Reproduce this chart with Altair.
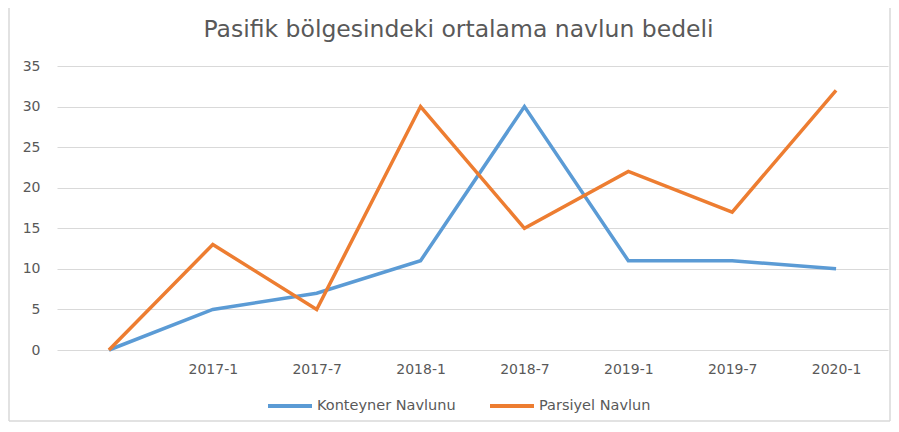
import altair as alt
import pandas as pd

categories = ["", "2017-1", "2017-7", "2018-1", "2018-7", "2019-1", "2019-7", "2020-1"]
konteyner = [0, 5, 7, 11, 30, 11, 11, 10]
parsiyel = [0, 13, 5, 30, 15, 22, 17, 32]
series_names = ["Konteyner Navlunu", "Parsiyel Navlun"]
series_colors = ["#5B9BD5", "#ED7D31"]

rows = []
for c, v in zip(categories, konteyner):
    rows.append({"period": c, "value": v, "series": series_names[0]})
for c, v in zip(categories, parsiyel):
    rows.append({"period": c, "value": v, "series": series_names[1]})
df = pd.DataFrame(rows)

FONT = "DejaVu Sans"
TXT = "#595959"

lines = alt.Chart(df).mark_line(strokeWidth=3.5).encode(
    x=alt.X("period:N", sort=categories,
            scale=alt.Scale(type="point", padding=0.5),
            axis=alt.Axis(title=None, labelAngle=0, ticks=False, domain=False,
                          grid=False, labelPadding=12, labelFontSize=14,
                          labelColor=TXT, labelFont=FONT)),
    y=alt.Y("value:Q", scale=alt.Scale(domain=[0, 35]),
            axis=alt.Axis(title=None, values=[0, 5, 10, 15, 20, 25, 30, 35],
                          ticks=False, domain=False, gridColor="#D9D9D9",
                          gridWidth=1.2, labelPadding=17, labelFontSize=14,
                          labelColor=TXT, labelFont=FONT)),
    color=alt.Color("series:N", sort=series_names,
                    scale=alt.Scale(domain=series_names, range=series_colors),
                    legend=alt.Legend(title=None, orient="none", direction="horizontal",
                                      legendX=209, legendY=316,
                                      symbolType="stroke", symbolSize=1936,
                                      symbolStrokeWidth=4, labelFontSize=14.5,
                                      labelColor=TXT, labelFont=FONT,
                                      columnPadding=26, labelOffset=3)),
)

frame_data = alt.Data(values=[{"a": 1}])
left = alt.Chart(frame_data).mark_rule(color="#D9D9D9", strokeWidth=1.5).encode(
    x=alt.value(-48), y=alt.value(-60), y2=alt.value(355))
right = alt.Chart(frame_data).mark_rule(color="#D9D9D9", strokeWidth=1.5).encode(
    x=alt.value(833), y=alt.value(-60), y2=alt.value(355))
bottom = alt.Chart(frame_data).mark_rule(color="#D9D9D9", strokeWidth=1.5).encode(
    x=alt.value(-48), x2=alt.value(833), y=alt.value(355))

chart = alt.layer(left, right, bottom, lines).properties(
    width=831, height=284,
    title=alt.TitleParams("Pasifik bölgesindeki ortalama navlun bedeli",
                          font=FONT, fontSize=23.5, fontWeight="normal",
                          color=TXT, anchor="middle", frame="group",
                          offset=-36, dx=-14),
    autosize=alt.AutoSizeParams(type="none"),
    padding={"left": 49, "top": 58, "right": 3, "bottom": 72},
).configure_view(stroke=None)

chart.save("out.html", embed_options={"renderer": "svg", "actions": False})
